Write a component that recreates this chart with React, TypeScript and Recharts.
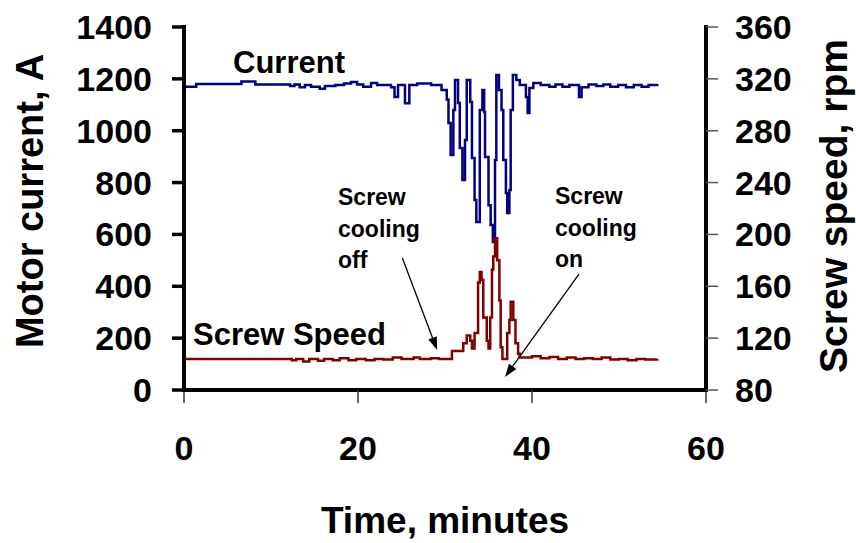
import {
  Customized,
  Line,
  LineChart,
  ReferenceLine,
  XAxis,
  YAxis,
} from "recharts";

// readings taken off the trace, minutes -> amps / rpm
const currentTime = [
  0, 1.4, 6.6, 8.2, 12.2, 12.7, 13.3, 13.9, 14.6, 15.6, 16.2, 17.4, 18.4, 19.2,
  19.9, 20.6, 21.5, 22.2, 23.8, 24.2, 24.6, 25.4, 25.9, 26.8, 28.4, 29.6, 30.2,
  30.4, 30.65, 30.96, 31.15, 31.5, 31.7, 32.0, 32.3, 32.5, 32.9, 33.1, 33.4,
  33.6, 34.0, 34.3, 34.5, 34.6, 35.0, 35.25, 35.5, 35.75, 35.9, 36.2, 36.5,
  36.7, 37.0, 37.15, 37.4, 37.55, 37.8, 38.2, 38.6, 39.3, 39.5, 39.7, 40.15, 41,
  42, 42.7, 43.5, 44.3, 45.4, 45.7, 46.5, 47.4, 48.2, 49, 49.9, 50.8, 51.7,
  52.6, 53.4, 54.4,
];
const currentAmps = [
  1170, 1180, 1190, 1178, 1172, 1178, 1168, 1176, 1170, 1162, 1172, 1176, 1182,
  1188, 1178, 1170, 1184, 1176, 1168, 1130, 1176, 1106, 1176, 1182, 1176, 1157,
  1120, 1030, 906, 1080, 1196, 1107, 933, 810, 964, 1196, 1111, 895, 733, 648,
  1080, 1157, 1072, 899, 713, 636, 571, 887, 1215, 1157, 1080, 887, 760, 683,
  771, 1080, 1215, 1196, 1176, 1130, 1068, 1165, 1184, 1176, 1170, 1178, 1170,
  1176, 1130, 1168, 1178, 1172, 1178, 1170, 1176, 1168, 1176, 1170, 1176, 1180,
];

const speedTime = [
  0, 12.4, 12.9, 13.7, 14.4, 15.4, 16.1, 17.1, 17.9, 18.9, 19.8, 20.9, 21.9,
  22.9, 24.0, 25.0, 26.4, 27.1, 28.4, 29.3, 30.8, 32.1, 32.5, 32.9, 33.1, 33.4,
  33.8, 34.0, 34.2, 34.4, 34.8, 35.0, 35.2, 35.4, 35.55, 35.75, 36.0, 36.25,
  36.4, 36.6, 37.15, 37.4, 37.55, 37.85, 38.1, 38.4, 38.6, 40.0, 41.0, 42.0,
  43.0, 44.0, 45.0, 46.0, 47.0, 48.0, 49.0, 50.0, 51.0, 52.0, 53.0, 54.4,
];
const speedRpm = [
  104, 103, 104, 102, 104, 102.5, 104, 103, 104.5, 103, 104, 103, 104, 103.5,
  105, 104, 105, 104, 104.5, 104, 110, 116, 122, 118, 112, 124, 163, 171, 165,
  136, 118, 112, 136, 173, 183, 197, 180, 149, 113, 104, 124, 134, 148, 134, 116,
  108, 105, 106, 104.5, 105.5, 104, 105, 104, 104.5, 104, 105, 103.5, 104, 103,
  104, 103.5, 104,
];

const timeTicks = [0, 20, 40, 60];
const currentTicks = [0, 200, 400, 600, 800, 1000, 1200, 1400];
const speedTicks = [80, 120, 160, 200, 240, 280, 320, 360];

// arrows in (minutes, amps)
const coolingOffArrow = [
  { x: 25.1, y: 509 },
  { x: 29.1, y: 154 },
];
const coolingOnArrow = [
  { x: 45.4, y: 447 },
  { x: 36.9, y: 50 },
];

const currentData = currentTime.map((t, i) => ({ t, amps: currentAmps[i] }));
const speedData = speedTime.map((t, i) => ({ t, rpm: speedRpm[i] }));

const FONT = "'Liberation Sans', Arial, sans-serif";
const tickFont = { fill: "#000", fontSize: 34, fontWeight: 700, fontFamily: FONT };

function Arrow(props: any) {
  const { x1, y1, x2, y2 } = props;
  const ang = Math.atan2(y2 - y1, x2 - x1);
  const len = 13;
  const half = 4.5;
  const bx = x2 - len * Math.cos(ang);
  const by = y2 - len * Math.sin(ang);
  const px = -Math.sin(ang) * half;
  const py = Math.cos(ang) * half;
  return (
    <g>
      <line x1={x1} y1={y1} x2={bx} y2={by} stroke="#000" strokeWidth={1.3} />
      <polygon
        points={`${x2},${y2} ${bx + px},${by + py} ${bx - px},${by - py}`}
        fill="#000"
      />
    </g>
  );
}

function Notes() {
  const t = { fontFamily: FONT, fontWeight: 700, fill: "#000" };
  return (
    <g>
      <text x={233} y={73} fontSize={31} {...t}>Current</text>
      <text x={193} y={345} fontSize={31} {...t}>Screw Speed</text>
      <text fontSize={23} {...t}>
        <tspan x={338} y={205}>Screw</tspan>
        <tspan x={338} y={237}>cooling</tspan>
        <tspan x={338} y={268}>off</tspan>
      </text>
      <text fontSize={23} {...t}>
        <tspan x={555} y={204}>Screw</tspan>
        <tspan x={555} y={236}>cooling</tspan>
        <tspan x={555} y={267}>on</tspan>
      </text>
      <text
        fontSize={38}
        textAnchor="middle"
        transform="translate(43,201) rotate(-90)"
        {...t}
      >
        Motor current, A
      </text>
      <text
        fontSize={39}
        textAnchor="middle"
        transform="translate(847,206) rotate(-90)"
        {...t}
      >
        Screw speed, rpm
      </text>
      <text x={445} y={533} fontSize={37} textAnchor="middle" {...t}>
        Time, minutes
      </text>
    </g>
  );
}

export default function App() {
  return (
    <div style={{ position: "absolute", left: 0, top: 0 }}>
      <LineChart width={856} height={543} margin={{ top: 27, right: 0, bottom: 0, left: 0 }}>
        <XAxis
          dataKey="t"
          type="number"
          domain={[0, 60]}
          ticks={timeTicks}
          height={153}
          tickSize={13}
          tickMargin={33}
          axisLine={{ stroke: "#000", strokeWidth: 4, strokeLinecap: "square" }}
          tickLine={{ stroke: "#333", strokeWidth: 1.5 }}
          tick={tickFont}
        />
        <XAxis
          xAxisId="top"
          orientation="top"
          type="number"
          domain={[0, 60]}
          height={0}
          tick={false}
          tickLine={false}
          axisLine={{ stroke: "#000", strokeWidth: 4, strokeLinecap: "square" }}
        />
        <YAxis
          yAxisId="left"
          domain={[0, 1400]}
          ticks={currentTicks}
          width={184}
          tickSize={12}
          tickMargin={20}
          axisLine={{ stroke: "#000", strokeWidth: 4, strokeLinecap: "square" }}
          tickLine={{ stroke: "#000", strokeWidth: 3.5 }}
          tick={tickFont}
        />
        <YAxis
          yAxisId="right"
          orientation="right"
          domain={[80, 360]}
          ticks={speedTicks}
          width={150}
          tickSize={12}
          tickMargin={17}
          axisLine={{ stroke: "#000", strokeWidth: 4, strokeLinecap: "square" }}
          tickLine={{ stroke: "#555", strokeWidth: 1.5 }}
          tick={tickFont}
        />
        <Line
          yAxisId="left"
          data={currentData}
          dataKey="amps"
          type="stepAfter"
          stroke="#000080"
          strokeWidth={2.5}
          dot={false}
          activeDot={false}
          isAnimationActive={false}
        />
        <Line
          yAxisId="right"
          data={speedData}
          dataKey="rpm"
          type="stepAfter"
          stroke="#800000"
          strokeWidth={2.5}
          dot={false}
          activeDot={false}
          isAnimationActive={false}
        />
        <ReferenceLine yAxisId="left" segment={coolingOffArrow} shape={Arrow} ifOverflow="visible" />
        <ReferenceLine yAxisId="left" segment={coolingOnArrow} shape={Arrow} ifOverflow="visible" />
        <Customized component={Notes} />
      </LineChart>
    </div>
  );
}
